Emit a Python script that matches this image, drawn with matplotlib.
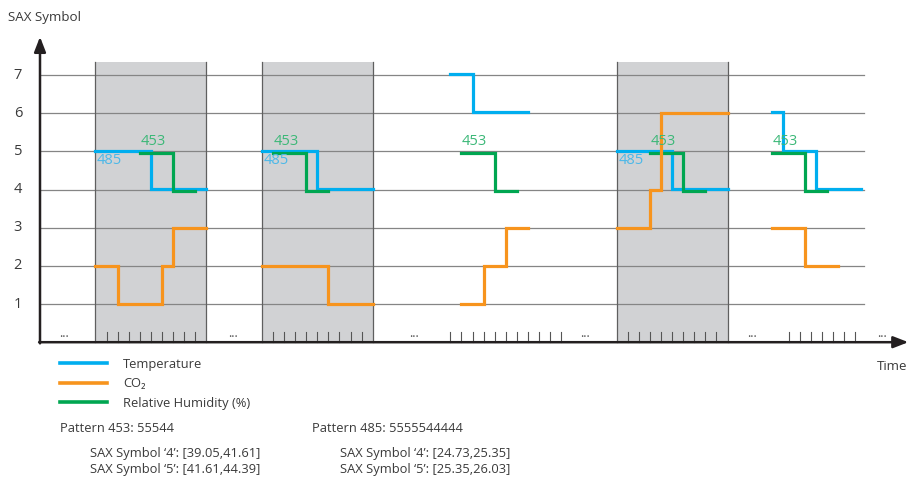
import numpy as np
import matplotlib
matplotlib.use("Agg")
import matplotlib.pyplot as plt
import matplotlib.transforms as mtransforms
from matplotlib.lines import Line2D

plt.rcParams["font.family"] = ["Open Sans", "DejaVu Sans"]

# SAX symbol sequences per observation window: (start step, symbols)
temperature = [
    (5, [5, 5, 5, 5, 5, 4, 4, 4, 4, 4]),
    (20, [5, 5, 5, 5, 5, 4, 4, 4, 4, 4]),
    (37, [7, 7, 6, 6, 6, 6, 6]),
    (52, [5, 5, 5, 5, 5, 4, 4, 4, 4, 4]),
    (66, [6, 5, 5, 5, 4, 4, 4, 4]),
]
co2 = [
    (5, [2, 2, 1, 1, 1, 1, 2, 3, 3, 3]),
    (20, [2, 2, 2, 2, 2, 2, 1, 1, 1, 1]),
    (38, [1, 1, 2, 2, 3, 3]),
    (52, [3, 3, 3, 4, 6, 6, 6, 6, 6, 6]),
    (66, [3, 3, 3, 2, 2, 2]),
]
humidity = [
    (9, [5, 5, 5, 4, 4]),
    (21, [5, 5, 5, 4, 4]),
    (38, [5, 5, 5, 4, 4]),
    (55, [5, 5, 5, 4, 4]),
    (66, [5, 5, 5, 4, 4]),
]

# pattern 485 / 453 occurrences (start step of the match)
pattern_485_starts = [5, 20, 52]
pattern_453_starts = [9, 21, 38, 55, 66]

highlight_windows = [(5, 15), (20, 30), (52, 62)]
tick_groups = [(6, 9), (21, 9), (37, 11), (53, 9), (67.5, 7)]
gap_marks = [2.2, 17.4, 33.7, 49.1, 64.2, 75.9]
sax_levels = [1, 2, 3, 4, 5, 6, 7]

C_TEMP = "#00aeef"
C_CO2 = "#f7941d"
C_HUM = "#00a651"
C_TXT = "#3a3a3a"
C_GRID = "#858585"
FS = 9.3

fig = plt.figure(figsize=(9.12, 4.79), dpi=100)
ax = fig.add_axes([0, 0, 1, 1])
ax.set_xlim(-3.607, 78.63)
ax.set_ylim(-3.584, 8.965)
ax.axis("off")

# grid lines per SAX level
for lv in sax_levels:
    ax.plot([0, 74.3], [lv, lv], color=C_GRID, lw=0.9, zorder=1)
    ax.text(-2.0, lv, str(lv), ha="center", va="center", fontsize=10.5, color=C_TXT)

# shaded windows where both patterns occur
for a, b in highlight_windows:
    ax.fill_between([a, b], 0, 7.34, color="#d1d2d4", lw=0, zorder=0)
    for xx in (a, b):
        ax.plot([xx, xx], [0, 7.34], color="#5f5f5f", lw=0.9, zorder=1)

# minor time ticks
for s, n in tick_groups:
    for xx in s + np.arange(n):
        ax.plot([xx, xx], [0, 0.27], color="#555555", lw=0.8, zorder=2)

for xx in gap_marks:
    ax.text(xx, 0.06, "...", ha="center", va="bottom", fontsize=9,
            color="#555555")


def draw_series(windows, color, z, dy_px=0.0):
    tr = ax.transData + mtransforms.ScaledTranslation(0, dy_px / 100.0,
                                                      fig.dpi_scale_trans)
    for start, vals in windows:
        x = start + np.arange(len(vals) + 1)
        y = list(vals) + [vals[-1]]
        ax.step(x, y, where="post", color=color, lw=2.3, zorder=z,
                solid_joinstyle="miter", transform=tr)


draw_series(temperature, C_TEMP, 4, dy_px=0.8)
draw_series(humidity, C_HUM, 5, dy_px=-1.6)
draw_series(co2, C_CO2, 6)

for s in pattern_453_starts:
    ax.text(s + 0.05, 5.05, "453", color="#3cb878", fontsize=10.5,
            ha="left", va="bottom", zorder=7)
for s in pattern_485_starts:
    ax.text(s + 0.15, 4.95, "485", color="#4cb8e8", fontsize=10.5,
            ha="left", va="top", zorder=7)

# axes with arrows
ax.annotate("", xy=(0, 8.0), xytext=(0, -0.03),
            arrowprops=dict(arrowstyle="-|>,head_width=0.35,head_length=0.9",
                            color="#231f20", lw=1.8, shrinkA=0, shrinkB=0))
ax.annotate("", xy=(78.3, 0), xytext=(-0.08, 0),
            arrowprops=dict(arrowstyle="-|>,head_width=0.35,head_length=0.9",
                            color="#231f20", lw=1.8, shrinkA=0, shrinkB=0))

fig.text(8 / 912, 1 - 17 / 479, "SAX Symbol", fontsize=9.6, color=C_TXT,
         ha="left", va="center")
fig.text(877 / 912, 1 - 366 / 479, "Time", fontsize=9.6, color=C_TXT,
         ha="left", va="center")

handles = [
    Line2D([], [], color=C_TEMP, lw=2.6),
    Line2D([], [], color=C_CO2, lw=2.6),
    Line2D([], [], color=C_HUM, lw=2.6),
]
labels = ["Temperature", "CO\u2082", "Relative Humidity (%)"]
fig.legend(handles, labels, loc="upper left",
           bbox_to_anchor=(48 / 912, 1 - 346 / 479), frameon=False,
           fontsize=FS, handlelength=3.7, handletextpad=1.2,
           labelspacing=0.5, labelcolor=C_TXT)

fig.text(60 / 912, 1 - 428 / 479, "Pattern 453: 55544", fontsize=FS,
         color=C_TXT, va="center")
fig.text(312 / 912, 1 - 428 / 479, "Pattern 485: 5555544444", fontsize=FS,
         color=C_TXT, va="center")
fig.text(90 / 912, 1 - 453 / 479, "SAX Symbol \u20184\u2019: [39.05,41.61]",
         fontsize=FS, color=C_TXT, va="center")
fig.text(90 / 912, 1 - 470 / 479, "SAX Symbol \u20185\u2019: [41.61,44.39]",
         fontsize=FS, color=C_TXT, va="center")
fig.text(340 / 912, 1 - 453 / 479, "SAX Symbol \u20184\u2019: [24.73,25.35]",
         fontsize=FS, color=C_TXT, va="center")
fig.text(340 / 912, 1 - 470 / 479, "SAX Symbol \u20185\u2019: [25.35,26.03]",
         fontsize=FS, color=C_TXT, va="center")

fig.savefig("out.png", dpi=100)
